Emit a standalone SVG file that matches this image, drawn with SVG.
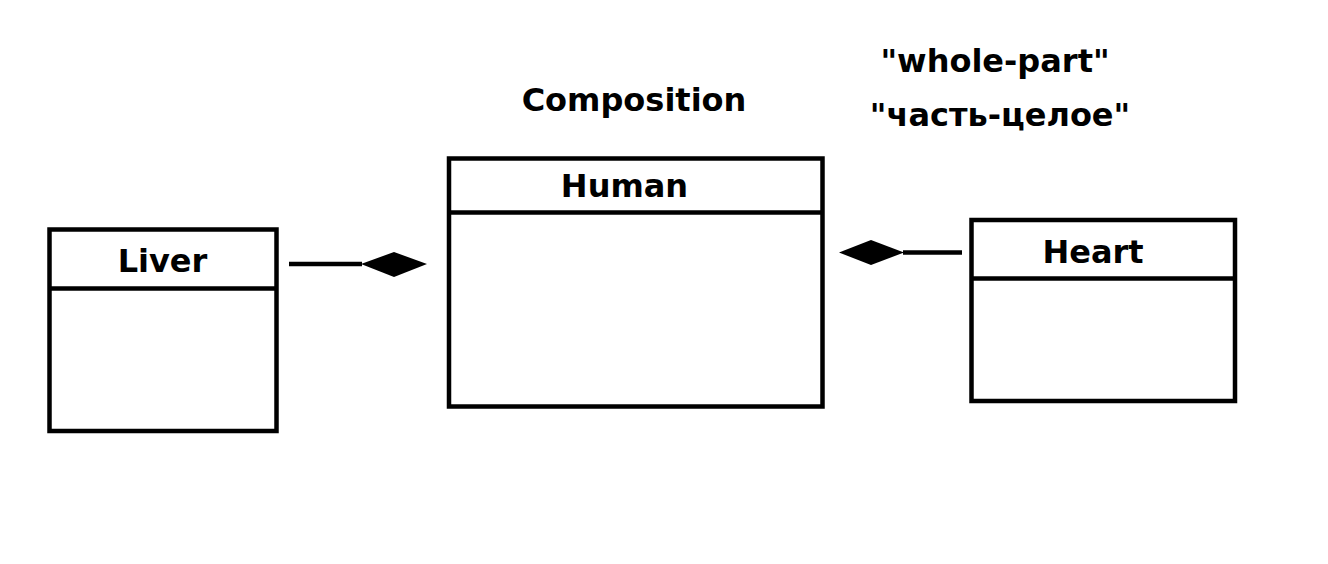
<svg xmlns="http://www.w3.org/2000/svg" width="1328" height="564" viewBox="0 0 1328 564">
<style>
.box{fill:#fff;stroke:#000;stroke-width:4.5}
.div{stroke:#000;stroke-width:4.5}
.t{font-family:"DejaVu Sans",Verdana,sans-serif;font-weight:bold;font-size:32px;fill:#000;text-anchor:middle}
.conn{stroke:#000;stroke-width:4.5;fill:none}
.dia{fill:#000;stroke:none}
</style>
<rect width="1328" height="564" fill="#fff"/>
<g id="labels">
<text class="t" x="634" y="111">Composition</text>
<text class="t" x="995" y="72">"whole-part"</text>
<text class="t" x="1000" y="126">"часть-целое"</text>
</g>
<g id="liver">
<rect class="box" x="49.5" y="229.5" width="227" height="201.5"/>
<line class="div" x1="49.5" y1="288.5" x2="276.5" y2="288.5"/>
<text class="t" x="162.5" y="272">Liver</text>
</g>
<g id="human">
<rect class="box" x="449" y="158.5" width="373.5" height="248"/>
<line class="div" x1="449" y1="212.5" x2="822.5" y2="212.5"/>
<text class="t" x="624.5" y="197">Human</text>
</g>
<g id="heart">
<rect class="box" x="971.5" y="220" width="263.5" height="181"/>
<line class="div" x1="971.5" y1="278.5" x2="1235" y2="278.5"/>
<text class="t" x="1093" y="263">Heart</text>
</g>
<g id="connectors">
<line class="conn" x1="289" y1="264" x2="362" y2="264"/>
<polygon class="dia" points="361,264 394,252 427,264 394,277"/>
<line class="conn" x1="903" y1="252.5" x2="962" y2="252.5"/>
<polygon class="dia" points="839,252.5 871,240 904,252.5 871,265"/>
</g>
</svg>
